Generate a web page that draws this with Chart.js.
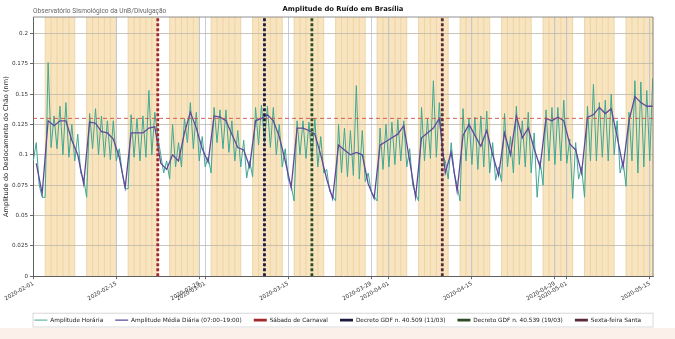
<!DOCTYPE html>
<html>
<head>
<meta charset="utf-8">
<script src="https://cdn.jsdelivr.net/npm/chart.js@4.4.1/dist/chart.umd.min.js"></script>
<style>
  html, body { margin: 0; padding: 0; background: #fff; }
  #wrap { width: 675px; height: 339px; position: relative; }
</style>
</head>
<body>
<div id="wrap"><canvas id="ruidoChart" width="675" height="339"></canvas></div>
<script>
// dia 0 = 2020-02-01 (sábado)
const inicio = new Date(2020, 1, 1);

// Amplitude média diária (07:00-19:00), um valor por dia, em nm
const mediaDiaria = [
  0.093, 0.068, 0.128, 0.124, 0.128, 0.128, 0.112, 0.100, 0.076,
  0.127, 0.126, 0.119, 0.118, 0.113, 0.098, 0.073,
  0.118, 0.118, 0.118, 0.122, 0.123, 0.093, 0.088,
  0.100, 0.095, 0.118, 0.135, 0.122, 0.105, 0.094,
  0.132, 0.131, 0.128, 0.117, 0.106, 0.104, 0.090,
  0.128, 0.130, 0.133, 0.128, 0.115, 0.095, 0.073,
  0.122, 0.122, 0.120, 0.117, 0.100, 0.080, 0.064,
  0.108, 0.104, 0.100, 0.102, 0.100, 0.076, 0.064,
  0.108, 0.111, 0.114, 0.117, 0.124, 0.095, 0.065,
  0.114, 0.118, 0.122, 0.130, 0.085, 0.102, 0.070,
  0.116, 0.125, 0.116, 0.107, 0.120, 0.100, 0.083,
  0.118, 0.100, 0.132, 0.114, 0.122, 0.105, 0.090,
  0.130, 0.128, 0.131, 0.128, 0.109, 0.104, 0.085,
  0.131, 0.133, 0.139, 0.134, 0.138, 0.115, 0.090,
  0.128, 0.148, 0.143, 0.140, 0.140
];

// Amplitude horária: pico do dia (meio-dia) e vale da noite (meia-noite)
const horariaDia = [
  0.110, 0.065, 0.176, 0.132, 0.140, 0.143, 0.125, 0.117, 0.080,
  0.134, 0.138, 0.132, 0.128, 0.128, 0.105, 0.072,
  0.133, 0.130, 0.132, 0.153, 0.135, 0.100, 0.095,
  0.125, 0.110, 0.130, 0.143, 0.135, 0.115, 0.098,
  0.139, 0.137, 0.137, 0.128, 0.120, 0.112, 0.095,
  0.139, 0.141, 0.140, 0.139, 0.125, 0.105, 0.075,
  0.128, 0.128, 0.127, 0.130, 0.115, 0.088, 0.066,
  0.125, 0.122, 0.120, 0.157, 0.120, 0.085, 0.066,
  0.122, 0.125, 0.127, 0.129, 0.128, 0.105, 0.068,
  0.139, 0.130, 0.161, 0.143, 0.095, 0.110, 0.075,
  0.138, 0.130, 0.131, 0.132, 0.136, 0.110, 0.090,
  0.134, 0.115, 0.140, 0.128, 0.135, 0.118, 0.095,
  0.137, 0.139, 0.139, 0.145, 0.113, 0.110, 0.090,
  0.140, 0.158, 0.143, 0.145, 0.150, 0.128, 0.095,
  0.135, 0.161, 0.160, 0.153, 0.163
];
const horariaNoite = [
  0.095, 0.075, 0.065, 0.106, 0.105, 0.100, 0.098, 0.095, 0.085,
  0.065, 0.105, 0.100, 0.098, 0.096, 0.095, 0.085,
  0.072, 0.098, 0.095, 0.098, 0.100, 0.115, 0.085,
  0.080, 0.090, 0.090, 0.110, 0.105, 0.095, 0.090,
  0.085, 0.110, 0.105, 0.102, 0.095, 0.090, 0.081,
  0.082, 0.108, 0.110, 0.106, 0.100, 0.090, 0.080,
  0.062, 0.100, 0.097, 0.095, 0.090, 0.085, 0.070,
  0.062, 0.085, 0.082, 0.083, 0.080, 0.078, 0.070,
  0.062, 0.088, 0.090, 0.092, 0.095, 0.090, 0.075,
  0.062, 0.095, 0.097, 0.098, 0.100, 0.080, 0.085,
  0.062, 0.095, 0.092, 0.088, 0.090, 0.085, 0.079,
  0.078, 0.090, 0.085, 0.092, 0.090, 0.085, 0.065,
  0.075, 0.095, 0.092, 0.095, 0.093, 0.064, 0.080,
  0.065, 0.095, 0.095, 0.098, 0.095, 0.100, 0.085,
  0.074, 0.095, 0.085, 0.090, 0.095
];

// eventos (dia desde 2020-02-01)
const eventoNomes = ['Sábado de Carnaval', 'Decreto GDF n. 40.509 (11/03)', 'Decreto GDF n. 40.539 (19/03)', 'Sexta-feira Santa'];
const eventoDias = [21, 39, 47, 69];
const eventoCores = ['#a3282e', '#1c1c40', '#2e4d22', '#5c2b3b'];

const limiar = 0.13;

const xTicks = [0, 14, 28, 29, 43, 57, 60, 74, 88, 90, 104];
const xTickLabels = ['2020-02-01', '2020-02-15', '2020-02-29', '2020-03-01', '2020-03-15', '2020-03-29',
  '2020-04-01', '2020-04-15', '2020-04-29', '2020-05-01', '2020-05-15'];
const yTicks = [0, 0.025, 0.05, 0.075, 0.1, 0.125, 0.15, 0.175, 0.2];
const yTickLabels = ['0', '0.025', '0.05', '0.075', '0.1', '0.125', '0.15', '0.175', '0.2'];

const xMin = -0.05, xMax = 104.55, yMax = 0.2135;

const pontosHorarios = [];
horariaNoite.forEach((v, d) => {
  pontosHorarios.push({ x: d, y: v });
  pontosHorarios.push({ x: d + 0.5, y: horariaDia[d] });
});
const pontosMedia = mediaDiaria.map((v, d) => ({ x: d + 0.5, y: v }));

const datasets = [
  { label: 'Amplitude Horária', data: pontosHorarios, borderColor: '#3fa892', borderWidth: 1, order: 3 },
  { label: 'Amplitude Média Diária (07:00–19:00)', data: pontosMedia, borderColor: '#5e4a9c', borderWidth: 1.3, order: 2 },
  { label: 'limiar', data: [{ x: xMin, y: limiar }, { x: xMax, y: limiar }], borderColor: '#c8504a', borderWidth: 0.9, borderDash: [4, 3], order: 1 }
];
eventoDias.forEach((d, i) => {
  datasets.push({
    label: eventoNomes[i],
    data: [{ x: d, y: 0 }, { x: d, y: yMax }],
    borderColor: eventoCores[i], borderWidth: 2.8, borderDash: [3, 2], order: 0
  });
});

const fundoPlugin = {
  id: 'fundo',
  beforeDraw(chart) {
    const { ctx, chartArea: a, scales: { x } } = chart;
    ctx.save();
    ctx.fillStyle = '#fbf1ea';
    ctx.fillRect(0, 328, chart.width, chart.height - 328);
    for (let d = 0; d < mediaDiaria.length; d++) {
      const wd = new Date(2020, 1, 1 + d).getDay();
      if (wd === 0 || wd === 6) continue;
      const x0 = Math.max(x.getPixelForValue(d), a.left);
      const x1 = Math.min(x.getPixelForValue(d + 1), a.right);
      ctx.fillStyle = '#f8e4bf';
      ctx.fillRect(x0, a.top, x1 - x0, a.bottom - a.top);
      ctx.strokeStyle = '#ebcf9c';
      ctx.lineWidth = 0.8;
      ctx.beginPath();
      ctx.moveTo(x0, a.top); ctx.lineTo(x0, a.bottom);
      if (wd === 5) { ctx.moveTo(x1, a.top); ctx.lineTo(x1, a.bottom); }
      ctx.stroke();
    }
    ctx.restore();
  },
  afterDraw(chart) {
    const { ctx, chartArea: a } = chart;
    ctx.save();
    ctx.strokeStyle = '#777';
    ctx.lineWidth = 0.8;
    ctx.beginPath();
    ctx.moveTo(a.left, a.top); ctx.lineTo(a.right, a.top); ctx.lineTo(a.right, a.bottom);
    ctx.stroke();
    // moldura da legenda
    const hb = chart.legend.legendHitBoxes;
    if (hb && hb.length) {
      ctx.strokeStyle = '#cfcfcf';
      ctx.strokeRect(a.left, hb[0].top - 4, a.right - a.left, hb[0].height + 8);
    }
    ctx.fillStyle = '#111';
    ctx.font = 'bold 6.8px "DejaVu Sans"';
    ctx.textAlign = 'center';
    ctx.textBaseline = 'middle';
    ctx.fillText('Amplitude do Ruído em Brasília', (a.left + a.right) / 2, 9.5);
    ctx.fillStyle = '#666';
    ctx.font = '6.6px Roboto';
    ctx.textAlign = 'left';
    ctx.fillText('Observatório Sismológico da UnB/Divulgação', 33, 11);
    ctx.restore();
  }
};

const tickFont = { family: 'DejaVu Sans', size: 5.6 };

new Chart(document.getElementById('ruidoChart'), {
  type: 'line',
  data: { datasets },
  options: {
    responsive: false,
    animation: false,
    devicePixelRatio: 1,
    layout: { padding: { top: 17, right: 22, left: 0, bottom: 6 } },
    elements: { point: { radius: 0 }, line: { tension: 0, fill: false } },
    plugins: {
      tooltip: { enabled: false },
      legend: {
        position: 'bottom',
        align: 'end',
        labels: {
          usePointStyle: true,
          pointStyle: 'line',
          pointStyleWidth: 13,
          boxHeight: 5,
          padding: 12,
          color: '#222',
          font: { family: 'DejaVu Sans', size: 5.8 },
          filter: (item) => item.text !== 'limiar',
          sort: (a, b) => a.datasetIndex - b.datasetIndex
        }
      }
    },
    scales: {
      x: {
        type: 'linear',
        min: xMin,
        max: xMax,
        afterBuildTicks: (s) => { s.ticks = xTicks.map(v => ({ value: v })); },
        afterFit: (s) => { s.height = 29; },
        ticks: {
          autoSkip: false, minRotation: 30, maxRotation: 30, padding: 1,
          font: tickFont, color: '#333',
          callback: (v, i) => xTickLabels[i]
        },
        grid: { color: '#b9c3d6', lineWidth: 0.8, tickLength: 3, tickColor: '#444' },
        border: { color: '#555', width: 0.9 }
      },
      y: {
        min: 0,
        max: yMax,
        afterBuildTicks: (s) => { s.ticks = yTicks.map(v => ({ value: v })); },
        afterFit: (s) => { s.width = 33; },
        ticks: { font: tickFont, color: '#333', padding: 2, callback: (v, i) => yTickLabels[i] },
        grid: { color: '#bdb6a8', lineWidth: 0.8, tickLength: 3, tickColor: '#444' },
        border: { color: '#555', width: 0.9 },
        title: {
          display: true, text: 'Amplitude do Deslocamento do Chão (nm)',
          font: { family: 'DejaVu Sans', size: 6.6 }, color: '#222', padding: { top: 2, bottom: 0 }
        }
      }
    }
  },
  plugins: [fundoPlugin]
});
</script>
</body>
</html>
